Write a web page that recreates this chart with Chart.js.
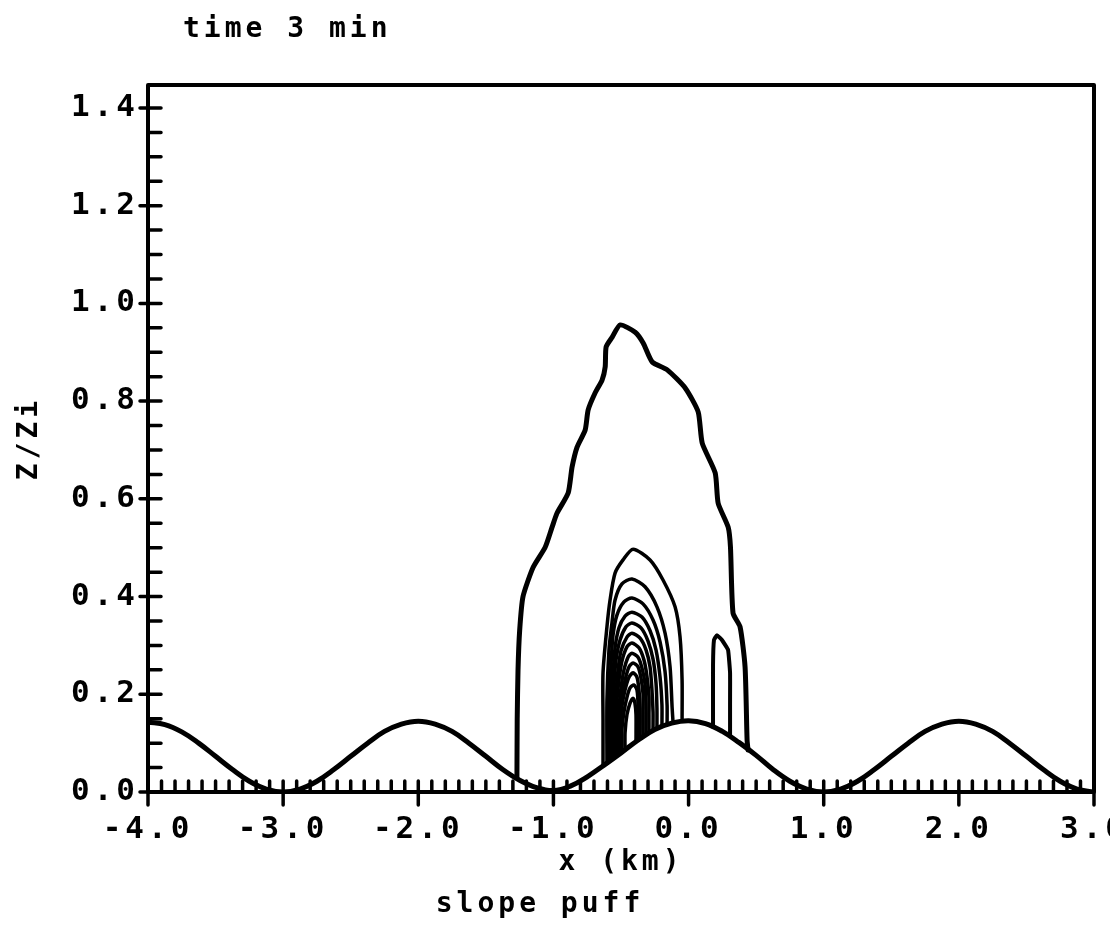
<!DOCTYPE html>
<html>
<head>
<meta charset="utf-8">
<title>time 3 min - slope puff</title>
<script src="https://cdn.jsdelivr.net/npm/chart.js@4.4.1/dist/chart.umd.min.js"></script>
<style>
  html, body { margin: 0; padding: 0; background: #fff; }
  canvas { display: block; }
</style>
</head>
<body>
<canvas id="plot" width="1110" height="925" style="width:1110px;height:925px"></canvas>
<script>
// texts
const titleText = 'time 3 min';
const subtitleText = 'slope puff';
const xTitle = 'x (km)';
const yTitle = 'Z/Zi';

// axes
const xTicks = [-4, -3, -2, -1, 0, 1, 2, 3];
const yTicks = [0, 0.2, 0.4, 0.6, 0.8, 1.0, 1.2, 1.4];
const xMinorPerMajor = 10;
const yMinorPerMajor = 4;

// terrain (hills)
const terrainX = [-4, -3.875, -3.75, -3.625, -3.5, -3.375, -3.25, -3.125,
  -3, -2.875, -2.75, -2.625, -2.5, -2.375, -2.25, -2.125,
  -2, -1.875, -1.75, -1.625, -1.5, -1.375, -1.25, -1.125,
  -1, -0.875, -0.75, -0.625, -0.5, -0.375, -0.25, -0.125,
  0, 0.125, 0.25, 0.375, 0.5, 0.625, 0.75, 0.875,
  1, 1.125, 1.25, 1.375, 1.5, 1.625, 1.75, 1.875,
  2, 2.125, 2.25, 2.375, 2.5, 2.625, 2.75, 2.875, 3];
const terrainZ = [0.143, 0.138, 0.123, 0.100, 0.073, 0.046, 0.022, 0.006,
  0.000, 0.006, 0.022, 0.046, 0.073, 0.100, 0.124, 0.139,
  0.145, 0.139, 0.124, 0.100, 0.073, 0.046, 0.024, 0.009,
  0.003, 0.012, 0.031, 0.055, 0.080, 0.106, 0.128, 0.141,
  0.146, 0.140, 0.124, 0.101, 0.075, 0.046, 0.022, 0.006,
  0.000, 0.006, 0.022, 0.046, 0.073, 0.100, 0.124, 0.139,
  0.145, 0.139, 0.124, 0.100, 0.073, 0.046, 0.022, 0.006, 0.000];

// outermost concentration contour
const contourOuter = [[-1.270, 0.029], [-1.268, 0.150], [-1.262, 0.250], [-1.250, 0.330],
  [-1.225, 0.400], [-1.150, 0.460], [-1.061, 0.501], [-1.010, 0.542], [-0.973, 0.571],
  [-0.891, 0.612], [-0.862, 0.665], [-0.825, 0.706], [-0.765, 0.741], [-0.743, 0.782],
  [-0.691, 0.817], [-0.640, 0.843], [-0.617, 0.870], [-0.610, 0.911], [-0.565, 0.931],
  [-0.506, 0.956], [-0.395, 0.941], [-0.336, 0.919], [-0.269, 0.880], [-0.158, 0.864],
  [-0.025, 0.827], [0.071, 0.778], [0.101, 0.714], [0.197, 0.653], [0.219, 0.591],
  [0.293, 0.542], [0.310, 0.501], [0.329, 0.366], [0.381, 0.338], [0.418, 0.256],
  [0.433, 0.106], [0.440, 0.086]];

// nested core contours, outside to inside
const contourCore = [
  [[-0.633, 0.057], [-0.633, 0.147], [-0.633, 0.244], [-0.604, 0.338], [-0.581, 0.393], [-0.544, 0.448], [-0.485, 0.475], [-0.411, 0.497], [-0.285, 0.475], [-0.189, 0.434], [-0.100, 0.379], [-0.063, 0.317], [-0.048, 0.229], [-0.048, 0.145]],
  [[-0.604, 0.061], [-0.604, 0.188], [-0.589, 0.291], [-0.567, 0.346], [-0.544, 0.393], [-0.493, 0.426], [-0.419, 0.436], [-0.322, 0.420], [-0.234, 0.379], [-0.174, 0.325], [-0.137, 0.256], [-0.122, 0.174], [-0.115, 0.143]],
  [[-0.589, 0.063], [-0.589, 0.168], [-0.574, 0.260], [-0.559, 0.321], [-0.530, 0.362], [-0.478, 0.389], [-0.419, 0.397], [-0.337, 0.385], [-0.263, 0.352], [-0.211, 0.307], [-0.174, 0.246], [-0.159, 0.178], [-0.159, 0.139]],
  [[-0.574, 0.065], [-0.574, 0.158], [-0.559, 0.239], [-0.544, 0.295], [-0.515, 0.336], [-0.470, 0.360], [-0.419, 0.368], [-0.345, 0.358], [-0.285, 0.330], [-0.241, 0.291], [-0.211, 0.235], [-0.197, 0.178], [-0.197, 0.135]],
  [[-0.567, 0.068], [-0.567, 0.147], [-0.552, 0.219], [-0.537, 0.270], [-0.507, 0.311], [-0.463, 0.338], [-0.419, 0.346], [-0.352, 0.336], [-0.300, 0.309], [-0.263, 0.272], [-0.241, 0.223], [-0.234, 0.172], [-0.234, 0.131]],
  [[-0.552, 0.070], [-0.552, 0.137], [-0.537, 0.203], [-0.522, 0.250], [-0.500, 0.289], [-0.456, 0.317], [-0.419, 0.325], [-0.359, 0.315], [-0.315, 0.291], [-0.285, 0.256], [-0.271, 0.209], [-0.263, 0.164], [-0.263, 0.129]],
  [[-0.544, 0.072], [-0.544, 0.127], [-0.530, 0.188], [-0.515, 0.229], [-0.493, 0.268], [-0.456, 0.297], [-0.419, 0.305], [-0.367, 0.295], [-0.330, 0.270], [-0.308, 0.237], [-0.293, 0.194], [-0.293, 0.158], [-0.293, 0.125]],
  [[-0.530, 0.074], [-0.530, 0.117], [-0.515, 0.172], [-0.500, 0.213], [-0.478, 0.250], [-0.448, 0.276], [-0.419, 0.284], [-0.374, 0.276], [-0.345, 0.254], [-0.322, 0.221], [-0.315, 0.182], [-0.315, 0.121]],
  [[-0.522, 0.076], [-0.522, 0.106], [-0.507, 0.158], [-0.493, 0.194], [-0.470, 0.229], [-0.441, 0.256], [-0.411, 0.264], [-0.374, 0.256], [-0.352, 0.233], [-0.337, 0.201], [-0.337, 0.164], [-0.337, 0.117]],
  [[-0.507, 0.080], [-0.507, 0.137], [-0.493, 0.176], [-0.470, 0.209], [-0.441, 0.235], [-0.411, 0.244], [-0.382, 0.235], [-0.367, 0.209], [-0.359, 0.172], [-0.359, 0.111]],
  [[-0.493, 0.082], [-0.493, 0.127], [-0.478, 0.164], [-0.456, 0.194], [-0.433, 0.213], [-0.404, 0.219], [-0.382, 0.209], [-0.374, 0.178], [-0.374, 0.108]],
  [[-0.470, 0.086], [-0.470, 0.121], [-0.456, 0.158], [-0.433, 0.182], [-0.411, 0.192], [-0.397, 0.182], [-0.389, 0.158], [-0.389, 0.104]]
];

// small closed loop right of the core
const contourSide = [[0.181, 0.133], [0.181, 0.260], [0.188, 0.311], [0.210, 0.321],
  [0.247, 0.311], [0.292, 0.291], [0.307, 0.244], [0.307, 0.178], [0.307, 0.117]];

const toPoints = arr => arr.map(p => ({ x: p[0], y: p[1] }));

function lineSet(points, width, tension) {
  return {
    data: points,
    showLine: true,
    borderColor: '#000',
    borderWidth: width,
    pointRadius: 0,
    fill: false,
    tension: tension,
    borderCapStyle: 'round',
    borderJoinStyle: 'round'
  };
}

const datasets = [
  lineSet(terrainX.map((x, i) => ({ x: x, y: terrainZ[i] })), 5, 0.4),
  lineSet(toPoints(contourOuter), 5, 0.2),
  lineSet(toPoints(contourSide), 4, 0.1)
];
contourCore.forEach(c => datasets.push(lineSet(toPoints(c), 3.5, 0.25)));

const tickFont = { family: '"DejaVu Sans Mono"', size: 31, weight: 'bold' };
const labelFont = { family: '"DejaVu Sans Mono"', size: 28, weight: 'bold' };
const spacing = '4px';

// frame, inward ticks and free texts
const framePlugin = {
  id: 'frame',
  beforeUpdate(chart) { chart.ctx.letterSpacing = spacing; },
  beforeDraw(chart) { chart.ctx.letterSpacing = spacing; },
  afterDraw(chart) {
    const { ctx, chartArea: a, scales } = chart;
    const xs = scales.x, ys = scales.y;
    ctx.save();
    ctx.strokeStyle = '#000';
    ctx.lineCap = 'round';
    ctx.lineJoin = 'round';
    ctx.lineWidth = 4;
    ctx.strokeRect(a.left, a.top, a.right - a.left, a.bottom - a.top);

    ctx.lineWidth = 3.5;
    ctx.beginPath();
    const yStep = (yTicks[1] - yTicks[0]) / yMinorPerMajor;
    const yCount = (yTicks.length - 1) * yMinorPerMajor;
    for (let i = 0; i <= yCount; i++) {
      const py = ys.getPixelForValue(yTicks[0] + i * yStep);
      const major = i % yMinorPerMajor === 0;
      ctx.moveTo(major ? a.left - 8 : a.left, py);
      ctx.lineTo(a.left + 13, py);
    }
    const xStep = (xTicks[1] - xTicks[0]) / xMinorPerMajor;
    const xCount = (xTicks.length - 1) * xMinorPerMajor;
    for (let i = 0; i <= xCount; i++) {
      const px = xs.getPixelForValue(xTicks[0] + i * xStep);
      const major = i % xMinorPerMajor === 0;
      ctx.moveTo(px, a.bottom - 11);
      ctx.lineTo(px, major ? a.bottom + 13 : a.bottom);
    }
    ctx.stroke();

    ctx.fillStyle = '#000';
    ctx.font = 'bold 28px "DejaVu Sans Mono"';
    ctx.textBaseline = 'middle';
    ctx.textAlign = 'left';
    ctx.fillText(titleText, a.left + 35, 30);
    ctx.textAlign = 'center';
    ctx.fillText(subtitleText, 540, 905);
    ctx.restore();
  }
};

Chart.defaults.color = '#000';

new Chart(document.getElementById('plot'), {
  type: 'scatter',
  data: { datasets: datasets },
  options: {
    responsive: false,
    animation: false,
    layout: { padding: { top: 85, right: 16, left: 0, bottom: 0 } },
    plugins: {
      legend: { display: false },
      tooltip: { enabled: false }
    },
    scales: {
      x: {
        type: 'linear',
        min: -4,
        max: 3,
        afterBuildTicks: s => { s.ticks = xTicks.map(v => ({ value: v })); },
        afterFit: s => { s.height = 133; s.paddingLeft = 0; s.paddingRight = 0; },
        grid: { display: false, drawTicks: false },
        border: { display: false },
        ticks: {
          font: tickFont,
          padding: 19,
          maxRotation: 0,
          autoSkip: false,
          callback: v => v.toFixed(1)
        },
        title: { display: true, text: xTitle, font: labelFont, padding: { top: 0, bottom: 45 } }
      },
      y: {
        type: 'linear',
        min: 0,
        max: 1.447,
        afterBuildTicks: s => { s.ticks = yTicks.map(v => ({ value: v })); },
        afterFit: s => { s.width = 148; s.paddingTop = 0; s.paddingBottom = 0; },
        grid: { display: false, drawTicks: false },
        border: { display: false },
        ticks: {
          font: tickFont,
          padding: 9,
          autoSkip: false,
          callback: v => v.toFixed(1)
        },
        title: { display: true, text: yTitle, font: labelFont, padding: { top: 13, bottom: 0 } }
      }
    }
  },
  plugins: [framePlugin]
});
</script>
</body>
</html>
